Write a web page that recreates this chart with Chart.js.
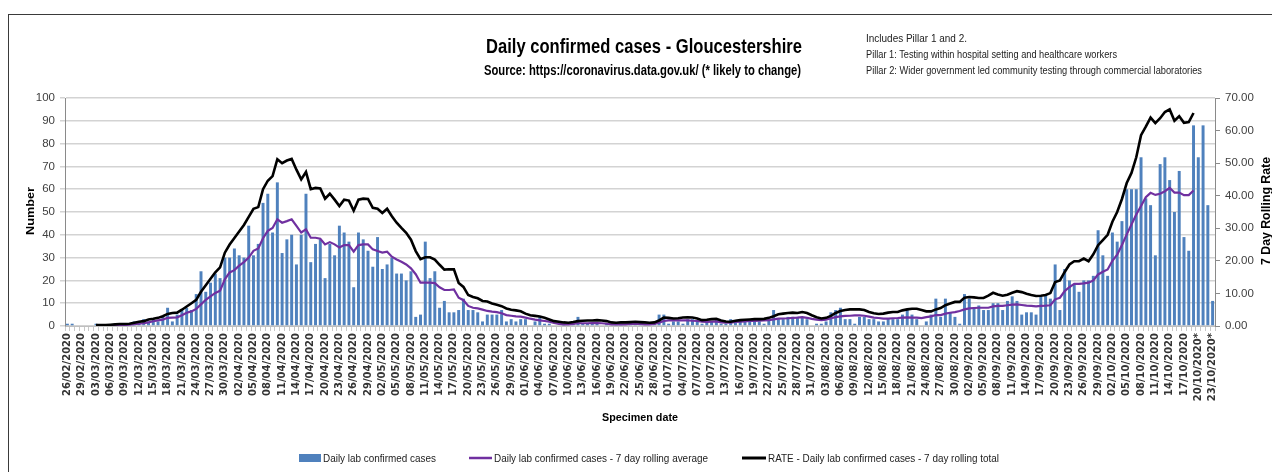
<!DOCTYPE html>
<html><head><meta charset="utf-8">
<script src="https://cdn.jsdelivr.net/npm/chart.js@4.4.1/dist/chart.umd.min.js"></script>
<style>
html,body{margin:0;padding:0;background:#fff;}
#wrap{position:relative;width:1272px;height:472px;overflow:hidden;background:#fff;}
#frame{position:absolute;left:8px;top:14px;width:1400px;height:600px;border-left:1.5px solid #3a3a3a;border-top:1.5px solid #3a3a3a;}
canvas{position:absolute;left:0;top:0;}
svg{position:absolute;left:0;top:0;}
</style></head>
<body>
<div id="wrap">
<div id="frame"></div>
<canvas id="c" width="1272" height="472"></canvas>
<svg width="1272" height="472" font-family="'Liberation Sans Narrow','Liberation Sans',Arial,sans-serif" fill="#000">
<text x="644" y="53" text-anchor="middle" font-size="21" font-weight="bold" textLength="316" lengthAdjust="spacingAndGlyphs">Daily confirmed cases - Gloucestershire</text>
<text x="642.5" y="75" text-anchor="middle" font-size="14" font-weight="bold" textLength="317" lengthAdjust="spacingAndGlyphs">Source: https://coronavirus.data.gov.uk/ (* likely to change)</text>
<text x="866" y="42" font-size="10" textLength="101" lengthAdjust="spacingAndGlyphs" fill="#222">Includes Pillar 1 and 2.</text>
<text x="866" y="58" font-size="10" textLength="251" lengthAdjust="spacingAndGlyphs" fill="#222">Pillar 1: Testing within hospital setting and healthcare workers</text>
<text x="866" y="74" font-size="10" textLength="336" lengthAdjust="spacingAndGlyphs" fill="#222">Pillar 2: Wider government led community testing through commercial laboratories</text>
<text transform="translate(34,211) rotate(-90)" text-anchor="middle" font-size="11" font-weight="bold" textLength="48" lengthAdjust="spacingAndGlyphs">Number</text>
<text transform="translate(1270,211) rotate(-90)" text-anchor="middle" font-size="12" font-weight="bold" textLength="108" lengthAdjust="spacingAndGlyphs">7 Day Rolling Rate</text>
<text x="640" y="421" text-anchor="middle" font-size="11" font-weight="bold" textLength="76" lengthAdjust="spacingAndGlyphs">Specimen date</text>
<rect x="299" y="454" width="22" height="8" fill="#4f81bd"/>
<text x="323" y="462" font-size="11" textLength="113" lengthAdjust="spacingAndGlyphs" fill="#222">Daily lab confirmed cases</text>
<line x1="469" y1="458" x2="492" y2="458" stroke="#7030a0" stroke-width="2.5"/>
<text x="494" y="462" font-size="11" textLength="214" lengthAdjust="spacingAndGlyphs" fill="#222">Daily lab confirmed cases - 7 day rolling average</text>
<line x1="742" y1="458" x2="766" y2="458" stroke="#000" stroke-width="3"/>
<text x="768" y="462" font-size="11" textLength="231" lengthAdjust="spacingAndGlyphs" fill="#222">RATE - Daily lab confirmed cases - 7 day rolling total</text>
</svg>
</div>
<script>
// Tick labels shown on the date axis (every third day)
const TICK_LABELS = ["26/02/2020","29/02/2020","03/03/2020","06/03/2020","09/03/2020","12/03/2020","15/03/2020","18/03/2020","21/03/2020","24/03/2020","27/03/2020","30/03/2020","02/04/2020","05/04/2020","08/04/2020","11/04/2020","14/04/2020","17/04/2020","20/04/2020","23/04/2020","26/04/2020","29/04/2020","02/05/2020","05/05/2020","08/05/2020","11/05/2020","14/05/2020","17/05/2020","20/05/2020","23/05/2020","26/05/2020","29/05/2020","01/06/2020","04/06/2020","07/06/2020","10/06/2020","13/06/2020","16/06/2020","19/06/2020","22/06/2020","25/06/2020","28/06/2020","01/07/2020","04/07/2020","07/07/2020","10/07/2020","13/07/2020","16/07/2020","19/07/2020","22/07/2020","25/07/2020","28/07/2020","31/07/2020","03/08/2020","06/08/2020","09/08/2020","12/08/2020","15/08/2020","18/08/2020","21/08/2020","24/08/2020","27/08/2020","30/08/2020","02/09/2020","05/09/2020","08/09/2020","11/09/2020","14/09/2020","17/09/2020","20/09/2020","23/09/2020","26/09/2020","29/09/2020","02/10/2020","05/10/2020","08/10/2020","11/10/2020","14/10/2020","17/10/2020","20/10/2020*","23/10/2020*"];

// Categories: every specimen date 26/02/2020 .. 23/10/2020
const CATEGORIES = [];
(function(){
  const d = new Date(Date.UTC(2020,1,26));
  const end = new Date(Date.UTC(2020,9,23));
  while (d <= end) {
    const s = String(d.getUTCDate()).padStart(2,'0') + '/' + String(d.getUTCMonth()+1).padStart(2,'0') + '/' + d.getUTCFullYear();
    CATEGORIES.push(d >= new Date(Date.UTC(2020,9,19)) ? s + '*' : s);
    d.setUTCDate(d.getUTCDate()+1);
  }
})();

// Daily lab confirmed cases
const CASES = [1,1,0,0,0,0,1,0,0,0,1,0,1,1,
2,2,3,2,3,2,4,8,2,5,7,8,7,
14,24,15,19,23,21,30,30,34,31,30,44,31,36,54,
58,41,63,32,38,40,27,40,58,28,36,38,21,36,31,44,41,37,17,41,38,33,26,39,25,27,30,23,23,20,24,4,5,37,21,24,8,11,6,6,7,12,
7,7,6,2,5,5,5,7,2,3,2,3,3,0,2,4,1,1,
0,0,1,0,1,4,1,1,1,1,0,1,0,1,1,0,1,2,1,0,0,1,5,5,
1,2,2,1,3,3,2,1,2,2,3,1,1,3,2,2,2,2,2,2,1,3,7,3,3,4,4,4,4,3,0,1,1,2,6,7,8,3,3,1,4,4,
3,3,2,2,3,3,3,5,7,5,3,0,2,5,12,4,12,6,4,1,14,12,8,9,7,7,10,10,7,11,13,11,5,6,6,5,13,14,12,
27,7,25,20,18,15,20,20,22,42,31,22,41,37,46,60,60,60,74,56,53,31,71,74,64,50,68,39,33,88,74,88,53,11];

// Daily lab confirmed cases - 7 day rolling average (left axis)
const AVG7 = [null,null,null,null,null,null,
0.3,0.3,0.3,0.3,0.4,0.4,0.4,0.6,
0.8,1.0,1.2,1.6,2.1,2.5,2.8,3.6,3.7,3.8,
4.7,5.8,6.4,7.5,9.5,11.5,13,14.5,15.5,20.5,
23.5,24.5,26.5,28,30,33,34,38.5,
41.7,43,46.8,45.3,46,46.8,43.9,41,42.4,38.7,
38.7,38.3,35.8,36.8,35.8,34.4,35.5,35.5,32.6,35.5,
35.8,35.8,33.6,32.9,32.2,32.6,30.4,29.2,28.2,27,
25.3,22.7,19,19,19,18.8,17,15.8,15.8,16,
12.4,11.3,
8.8,8,7.7,7.2,6.6,6.3,6.1,5.6,4.8,4.5,
4.2,4.1,3.7,3.2,2.8,2.5,2.2,1.9,1.3,0.9,
0.7,0.7,0.9,1.2,1.2,1.2,1.3,1.3,1.2,1,
0.7,0.7,0.7,0.7,0.9,0.9,0.9,0.7,0.7,0.9,
1.5,2.2,
2.5,2.5,2.5,2.5,2.5,2.3,2.2,1.9,1.8,1.9,
2,1.6,1.5,1.5,1.8,1.9,2,2.2,2.2,2.3,
2.5,2.6,2.9,3.2,3.3,3.4,3.6,3.7,3.9,3.6,
3.1,2.8,2.6,2.8,3.4,3.9,4.2,4.4,4.5,4.7,
4.7,4.5,
4.1,3.7,3.5,3.2,3.2,3.4,3.5,3.7,3.8,3.7,
3.7,3.5,3.9,4.2,4.8,4.8,5.4,5.8,6.1,6.6,
7.3,7.7,7.9,8,8,8,8.6,8.8,8.8,9.1,
9.4,9.5,9.2,8.9,8.8,8.6,8.8,8.9,9.1,
11.7,12.4,15.3,17.1,18.5,18.5,18.7,19,20,22.6,
23.8,24.8,28.6,31.3,35.5,40.2,44.5,48.9,52.6,56.5,
58.4,57.5,58,59.1,60.6,58.5,58.5,57.4,57.4,59.4,
null,null,null,null];

// RATE - 7 day rolling total (right axis)
const RATE7 = [null,null,null,null,null,null,
0.3,0.3,0.3,0.4,0.5,0.6,0.6,0.7,
1.0,1.3,1.5,2.0,2.2,2.5,3.0,3.7,4.0,4.1,
5.0,6.0,7.0,8.0,10.5,12.5,14.5,16.5,18,22.5,
25,27,29,31,33.5,36,36.5,42,
44.6,46,51.2,50,50.8,51.3,48,45,47.3,42,
42.4,42.2,39.1,40.6,38.8,36.8,38.8,38.5,35.4,38.8,
39.1,39,36.3,36,34.7,36,33.7,31.7,30.1,28.6,
26.5,23,20.5,21.1,21.1,20.4,18.8,17.3,17.4,17.4,
13.2,12,
9.5,8.9,8.5,7.7,7.5,6.9,6.5,6.1,5.4,5,
4.8,4.5,3.8,3.3,3.1,2.9,2.5,2,1.5,1.3,
1.1,1,1.2,1.5,1.6,1.7,1.7,1.8,1.7,1.5,
1.1,1,1.1,1.1,1.2,1.3,1.2,1.1,1,1.1,
1.7,2.6,
2.5,2.3,2.4,2.6,2.7,2.6,2.3,1.8,1.9,2.1,
2.2,1.7,1.4,1.3,1.6,1.8,1.9,2,2.1,2.1,
2.2,2.5,3,3.6,3.8,4,4.1,4,4.3,4,
3.3,2.7,2.3,2.5,3.1,4,4.6,4.9,5.1,5.1,
5.1,4.9,
4.3,3.9,3.7,3.8,4.1,4.3,4.3,4.8,5.1,5.3,
5.3,4.9,4.5,4.5,5.1,5.5,6.4,6.9,7.4,7.4,
8.7,8.9,8.8,8.6,8.6,9.3,10.2,9.7,9.3,9.6,
10.2,10.7,10.4,9.9,9.5,9.2,9.3,9.5,10.1,
13.5,14,16.6,18.9,19.9,19.9,20.7,19.9,22,24.8,
26.4,28,32,35,39,43.9,47,51.8,58.6,61.2,
64,62.3,63.8,65.7,66.5,63,64.4,62.4,62.6,65.4,
null,null,null,null];

const TICK_FONT = "'Liberation Sans Narrow','Liberation Sans',Arial,sans-serif";

new Chart(document.getElementById('c').getContext('2d'), {
  type: 'bar',
  data: {
    labels: CATEGORIES,
    datasets: [
      {type:'line', label:'RATE - Daily lab confirmed cases - 7 day rolling total', data: RATE7, yAxisID:'y2',
       borderColor:'#000000', borderWidth:2.6, pointRadius:0, tension:0, order:0, spanGaps:false},
      {type:'line', label:'Daily lab confirmed cases - 7 day rolling average', data: AVG7, yAxisID:'y',
       borderColor:'#7030a0', borderWidth:2.2, pointRadius:0, tension:0, order:1},
      {type:'bar', label:'Daily lab confirmed cases', data: CASES, yAxisID:'y',
       backgroundColor:'#4f81bd', borderWidth:0, barPercentage:0.62, categoryPercentage:1, order:2}
    ]
  },
  options: {
    responsive:false, animation:false, devicePixelRatio:1,
    layout:{padding:{top:98,left:0,right:0,bottom:0}},
    plugins:{legend:{display:false}, tooltip:{enabled:false}, title:{display:false}},
    scales:{
      x:{
        offset:true,
        grid:{display:true, drawOnChartArea:false, drawTicks:true, tickLength:5, color:'#c8c8c8', offset:true},
        border:{display:true, color:'#bfbfbf'},
        ticks:{autoSkip:false, maxRotation:90, minRotation:90, padding:2, color:'#333333',
               font:{family:'DejaVu Sans', size:10, weight:'bold'},
               callback:(v,i)=> (i % 3 === 0 ? TICK_LABELS[i/3] : '')},
        afterFit:(s)=>{ s.height = 146; }
      },
      y:{
        position:'left', min:0, max:100,
        ticks:{stepSize:10, padding:5, color:'#404040', font:{family:TICK_FONT, size:11.5}},
        grid:{color:'#d3d3d3', lineWidth:1.5, tickLength:5, drawTicks:true},
        border:{display:true, color:'#8a8a8a'},
        afterFit:(s)=>{ s.width = 65; }
      },
      y2:{
        position:'right', min:0, max:70,
        ticks:{stepSize:10, padding:5, color:'#404040', font:{family:TICK_FONT, size:11.5},
               callback:(v)=> Number(v).toFixed(2)},
        grid:{drawOnChartArea:false, tickLength:5, color:'#8a8a8a'},
        border:{display:true, color:'#8a8a8a'},
        afterFit:(s)=>{ s.width = 57; }
      }
    }
  }
});
</script>
</body></html>
